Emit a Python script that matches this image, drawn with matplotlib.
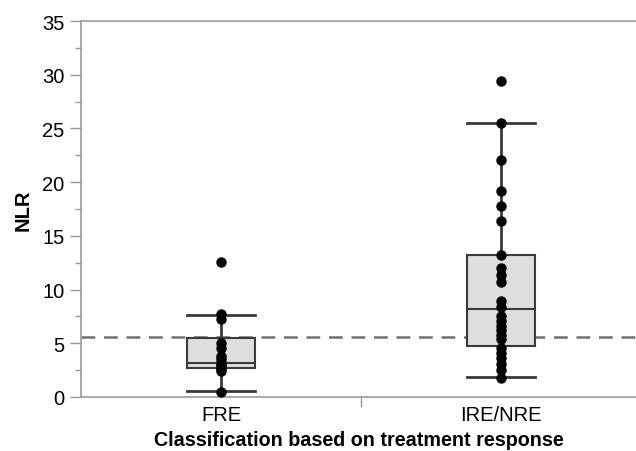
import matplotlib
matplotlib.use("Agg")
import matplotlib.pyplot as plt
from matplotlib.ticker import MultipleLocator, FixedLocator

plt.rcParams["font.family"] = ["Liberation Sans", "DejaVu Sans"]

# --- datos ---
groups = ["FRE", "IRE/NRE"]
fre_values = [12.6, 7.7, 7.3, 5.0, 4.6, 3.8, 3.5, 3.2, 3.0, 2.8, 2.6, 2.4, 0.5]
ire_values = [29.4, 25.5, 22.1, 19.2, 17.8, 16.4, 13.2, 12.0, 11.4, 10.7,
              8.9, 8.4, 7.5, 7.1, 6.6, 6.2, 5.8, 5.4,
              4.6, 4.1, 3.6, 3.1, 2.5, 1.8]
# estadísticos de las cajas (tal como aparecen dibujados)
box_q1 = [2.70, 4.72]
box_med = [3.13, 8.19]
box_q3 = [5.46, 13.2]
whisker_lo = [0.53, 1.83]
whisker_hi = [7.66, 25.5]
cutoff = 5.6

positions = [0.5, 1.5]
fs = 14.5

fig = plt.figure(figsize=(6.36, 4.52), dpi=100)
ax = fig.add_axes([81 / 636, 54 / 452, 555 / 636, 376 / 452])

ax.axhline(cutoff, color="#707070", lw=1.8, ls=(0, (5.5, 3.5)), zorder=1)

stats = []
for i, name in enumerate(groups):
    stats.append({"label": name, "q1": box_q1[i], "med": box_med[i], "q3": box_q3[i],
                  "whislo": whisker_lo[i], "whishi": whisker_hi[i], "fliers": []})

ax.bxp(stats, positions=positions, widths=0.245, patch_artist=True,
       showfliers=False, capwidths=0.245,
       boxprops=dict(facecolor="#dedede", edgecolor="#3a3a3a", lw=1.5),
       medianprops=dict(color="#3a3a3a", lw=1.5),
       whiskerprops=dict(color="#3a3a3a", lw=2),
       capprops=dict(color="#3a3a3a", lw=2), zorder=2)

for pos, vals in zip(positions, [fre_values, ire_values]):
    ax.plot([pos] * len(vals), vals, "o", color="black", ms=6.5, zorder=3,
            clip_on=False)

ax.set_xlim(0, 2 * 555 / 560)
ax.set_ylim(0, 35)

ax.yaxis.set_major_locator(MultipleLocator(5))
ax.yaxis.set_minor_locator(MultipleLocator(2.5))
ax.tick_params(axis="y", which="major", length=8, width=1, color="#999999",
               labelsize=fs, pad=4)
ax.tick_params(axis="y", which="minor", length=4, width=1, color="#999999")

ax.xaxis.set_major_locator(FixedLocator([1.0]))
ax.xaxis.set_minor_locator(FixedLocator(positions))
ax.set_xticklabels([""])
ax.set_xticklabels(groups, minor=True)
ax.tick_params(axis="x", which="major", length=7, width=1, color="#999999")
ax.tick_params(axis="x", which="minor", length=0, labelsize=fs, pad=6)

for side in ["left", "bottom", "top"]:
    ax.spines[side].set_color("#999999")
    ax.spines[side].set_linewidth(1.2)
ax.spines["right"].set_visible(False)

ax.set_ylabel("NLR", fontsize=fs, fontweight="bold", labelpad=7)
ax.set_xlabel("Classification based on treatment response", fontsize=14.2,
              fontweight="bold", labelpad=4)

fig.savefig("out.png", dpi=100)
